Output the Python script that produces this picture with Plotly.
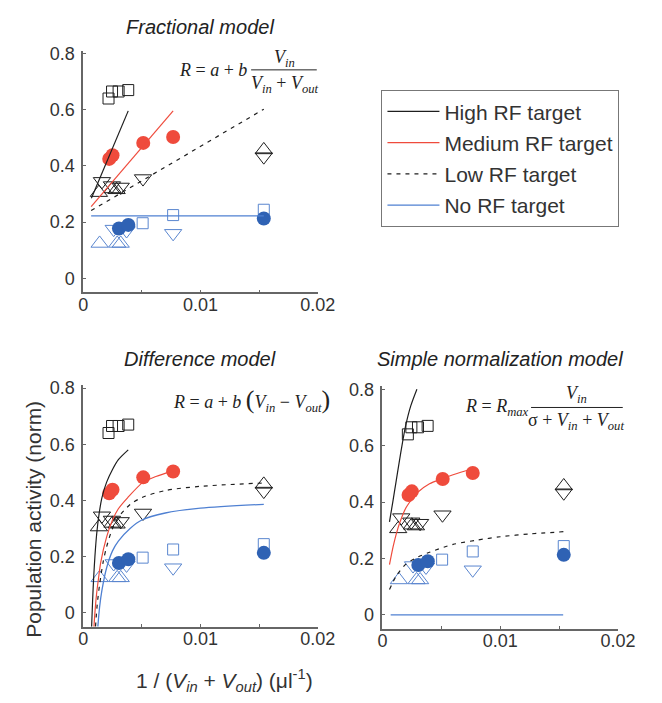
import plotly.graph_objects as go

W, H = 662, 703

# ---------------- data ----------------
black_sq_x = [0.00216, 0.00246, 0.00302, 0.00384]
black_sq_y = [0.640, 0.665, 0.665, 0.670]
red_ci_x = [0.00222, 0.00250, 0.00512, 0.00767]
red_ci_y = [0.425, 0.438, 0.482, 0.503]
black_up_x = [0.00134, 0.00250, 0.00285, 0.0154]
black_up_y = [0.305, 0.318, 0.315, 0.457]
black_dn_x = [0.00160, 0.00245, 0.00320, 0.00510, 0.0154]
black_dn_y = [0.345, 0.330, 0.325, 0.355, 0.433]
blue_sq_x = [0.00507, 0.00767, 0.0154]
blue_sq_y = [0.196, 0.225, 0.244]
blue_ci_x = [0.00305, 0.00385, 0.0154]
blue_ci_y = [0.177, 0.190, 0.213]
blue_up_x = [0.00140, 0.00290, 0.00320]
blue_up_y = [0.124, 0.124, 0.124]
blue_dn_x = [0.00260, 0.00370, 0.00767]
blue_dn_y = [0.175, 0.170, 0.160]

# Fractional model fits
frac_high_x = [0.00070, 0.00384]
frac_high_y = [0.285, 0.596]
frac_med_x = [0.00068, 0.00767]
frac_med_y = [0.255, 0.596]
frac_low_x = [0.00068, 0.0154]
frac_low_y = [0.241, 0.602]
frac_no_x = [0.00068, 0.0154]
frac_no_y = [0.222, 0.222]

# Difference model fits
diff_high_x = [0.00072, 0.00080, 0.00090, 0.00100, 0.00115, 0.00135, 0.00160, 0.00200, 0.00250, 0.00300, 0.00384]
diff_high_y = [-0.05, 0.04, 0.13, 0.20, 0.28, 0.35, 0.41, 0.465, 0.51, 0.545, 0.58]
diff_med_x = [0.00092, 0.00100, 0.00115, 0.00130, 0.00150, 0.00200, 0.00250, 0.00300, 0.00380, 0.00512, 0.00620, 0.00767]
diff_med_y = [-0.05, 0.00, 0.07, 0.12, 0.18, 0.27, 0.33, 0.37, 0.41, 0.465, 0.485, 0.505]
diff_low_x = [0.00105, 0.00120, 0.00140, 0.00170, 0.00200, 0.00250, 0.00300, 0.00400, 0.00500, 0.00700, 0.01000, 0.01540]
diff_low_y = [-0.05, 0.03, 0.10, 0.18, 0.235, 0.30, 0.34, 0.385, 0.41, 0.435, 0.45, 0.462]
diff_no_x = [0.00125, 0.00140, 0.00160, 0.00200, 0.00250, 0.00300, 0.00400, 0.00500, 0.00700, 0.01000, 0.01540]
diff_no_y = [-0.05, 0.02, 0.08, 0.16, 0.22, 0.255, 0.30, 0.33, 0.355, 0.372, 0.386]

# Simple normalization model fits
norm_high_x = [0.00060, 0.00088, 0.00115, 0.00142, 0.00170, 0.00197, 0.00240, 0.00293]
norm_high_y = [0.33, 0.40, 0.47, 0.54, 0.61, 0.67, 0.74, 0.80]
norm_med_x = [0.00060, 0.00090, 0.00115, 0.00150, 0.00200, 0.00250, 0.00300, 0.00400, 0.00500, 0.00600, 0.00780]
norm_med_y = [0.178, 0.24, 0.283, 0.33, 0.38, 0.41, 0.435, 0.465, 0.482, 0.497, 0.52]
norm_low_x = [0.00060, 0.00120, 0.00200, 0.00300, 0.00400, 0.00600, 0.00800, 0.01000, 0.01250, 0.01540]
norm_low_y = [0.09, 0.14, 0.18, 0.205, 0.222, 0.25, 0.265, 0.277, 0.287, 0.295]
norm_no_x = [0.00070, 0.01535]
norm_no_y = [0.0, 0.0]

x_ticks = [0, 0.01, 0.02]
x_ticklabels = ["0", "0.01", "0.02"]
y_ticks = [0, 0.2, 0.4, 0.6, 0.8]
y_ticklabels = ["0", "0.2", "0.4", "0.6", "0.8"]

legend_names = ["High RF target", "Medium RF target", "Low RF target", "No RF target"]

# ---------------- styles ----------------
BLACK = "#1e1e1e"
RED = "#ef4b3c"
BLUE_LINE = "#4f80d2"
BLUE_OPEN = "#5a86cf"
BLUE_FILL = "#2f62b4"
AXIS = "#666666"
SANS = "Liberation Sans, Arial, sans-serif"
SERIF = "Liberation Serif, Times New Roman, serif"


def px_x(p):
    return p / W


def px_y(p):
    return 1 - p / H


fig = go.Figure()

panels = [("x", "y"), ("x2", "y2"), ("x3", "y3")]
fits = [
    [(frac_high_x, frac_high_y), (frac_med_x, frac_med_y), (frac_low_x, frac_low_y), (frac_no_x, frac_no_y)],
    [(diff_high_x, diff_high_y), (diff_med_x, diff_med_y), (diff_low_x, diff_low_y), (diff_no_x, diff_no_y)],
    [(norm_high_x, norm_high_y), (norm_med_x, norm_med_y), (norm_low_x, norm_low_y), (norm_no_x, norm_no_y)],
]
fit_styles = [
    dict(color=BLACK, width=1.2, dash="solid"),
    dict(color=RED, width=1.2, dash="solid"),
    dict(color=BLACK, width=1.2, dash="4px,5px"),
    dict(color=BLUE_LINE, width=1.3, dash="solid"),
]

marker_sets = [
    (black_up_x, black_up_y, dict(symbol="triangle-up-open", size=15, color=BLACK, line=dict(width=1, color=BLACK))),
    (black_dn_x, black_dn_y, dict(symbol="triangle-down-open", size=15, color=BLACK, line=dict(width=1, color=BLACK))),
    (black_sq_x, black_sq_y, dict(symbol="square-open", size=11, color=BLACK, line=dict(width=1, color=BLACK))),
    (blue_up_x, blue_up_y, dict(symbol="triangle-up-open", size=15, color=BLUE_OPEN, line=dict(width=1, color=BLUE_OPEN))),
    (blue_dn_x, blue_dn_y, dict(symbol="triangle-down-open", size=15, color=BLUE_OPEN, line=dict(width=1, color=BLUE_OPEN))),
    (blue_sq_x, blue_sq_y, dict(symbol="square-open", size=11, color=BLUE_OPEN, line=dict(width=1, color=BLUE_OPEN))),
    (red_ci_x, red_ci_y, dict(symbol="circle", size=14, color=RED, line=dict(width=0))),
    (blue_ci_x, blue_ci_y, dict(symbol="circle", size=14, color=BLUE_FILL, line=dict(width=0))),
]

for pi, (xa, ya) in enumerate(panels):
    for mx, my, mk in marker_sets:
        fig.add_trace(go.Scatter(x=mx, y=my, mode="markers", marker=mk, xaxis=xa, yaxis=ya,
                                 showlegend=False, hoverinfo="skip"))
    for li, (fx, fy) in enumerate(fits[pi]):
        fig.add_trace(go.Scatter(x=fx, y=fy, mode="lines", line=dict(shape="spline", smoothing=0.8, **fit_styles[li]),
                                 xaxis=xa, yaxis=ya, name=legend_names[li], legendgroup=f"g{li}",
                                 showlegend=(pi == 0), hoverinfo="skip"))


def xaxis_style(dom, anchor):
    return dict(domain=dom, anchor=anchor, range=[0, 0.02], tickvals=x_ticks, ticktext=x_ticklabels,
                showline=True, linecolor=AXIS, linewidth=1.6, showgrid=False, zeroline=False,
                ticks="inside", ticklen=3, tickcolor=AXIS, tickwidth=1,
                minor=dict(tickvals=[0.005, 0.015], ticks="inside", ticklen=3, tickcolor=AXIS),
                tickfont=dict(family=SANS, size=18, color="#333"), ticklabelstandoff=-5)


def yaxis_style(dom, anchor):
    return dict(domain=dom, anchor=anchor, range=[-0.05, 0.81], tickvals=y_ticks, ticktext=y_ticklabels,
                showline=True, linecolor=AXIS, linewidth=1.6, showgrid=False, zeroline=False,
                ticks="inside", ticklen=3, tickcolor=AXIS, tickwidth=1,
                tickfont=dict(family=SANS, size=18, color="#333"), ticklabelstandoff=3)


fig.update_layout(
    width=W, height=H,
    margin=dict(l=0, r=0, t=0, b=0),
    paper_bgcolor="white", plot_bgcolor="white",
    xaxis=xaxis_style([81 / W, 324 / W], "y"),
    yaxis=yaxis_style([px_y(288.2), px_y(44.2)], "x"),
    xaxis2=xaxis_style([81 / W, 324 / W], "y2"),
    yaxis2=yaxis_style([px_y(625.9), px_y(382.1)], "x2"),
    xaxis3=xaxis_style([391 / W, 635 / W], "y3"),
    yaxis3=yaxis_style([px_y(628.3), px_y(383.2)], "x3"),
    legend=dict(x=px_x(390), y=px_y(84), xanchor="left", yanchor="top",
                bordercolor="#777", borderwidth=1, bgcolor="white",
                font=dict(family=SANS, size=21, color="#333"),
                traceorder="grouped", tracegroupgap=1, itemwidth=52),
)

annotations = []


def ann(text, x, y, size, family=SANS, xanchor="center", yanchor="middle", textangle=0, color="#222"):
    annotations.append(dict(text=text, x=px_x(x), y=px_y(y), xref="paper", yref="paper",
                            showarrow=False, xanchor=xanchor, yanchor=yanchor, textangle=textangle,
                            font=dict(family=family, size=size, color=color)))


# panel titles
ann("<i>Fractional model</i>", 202, 20, 20)
ann("<i>Difference model</i>", 202, 356, 20)
ann("<i>Simple normalization model</i>", 513, 356, 20)

# axis titles
ann("Population activity (norm)", 30, 517, 21, textangle=-90, color="#333")
ann("1 / (<i>V<sub>in</sub></i> + <i>V<sub>out</sub></i>) (μl<sup>-1</sup>)", 227, 680, 21, color="#333")

# formulas
ann("<i>R</i> = <i>a</i> + <i>b</i>", 178, 64, 18, SERIF, xanchor="left")
ann("<i>V<sub>in</sub></i>", 290, 52, 18, SERIF)
ann("<i>V<sub>in</sub></i> + <i>V<sub>out</sub></i>", 290, 78, 18, SERIF)

ann("<i>R</i> = <i>a</i> + <i>b</i> <span style='font-size:26px'>(</span><i>V<sub>in</sub></i> − <i>V<sub>out</sub></i><span style='font-size:26px'>)</span>",
    172, 397, 18, SERIF, xanchor="left")

ann("<i>R</i> = <i>R<sub>max</sub></i>", 474, 405, 18, SERIF, xanchor="left")
ann("<i>V<sub>in</sub></i>", 592, 391, 18, SERIF)
ann("σ + <i>V<sub>in</sub></i> + <i>V<sub>out</sub></i>", 592, 419, 18, SERIF)

fig.update_layout(annotations=annotations)

shapes = [
    dict(type="line", xref="paper", yref="paper", x0=px_x(255), x1=px_x(323), y0=px_y(63.5), y1=px_y(63.5),
         line=dict(color="#222", width=1)),
    dict(type="line", xref="paper", yref="paper", x0=px_x(545), x1=px_x(640), y0=px_y(404.5), y1=px_y(404.5),
         line=dict(color="#222", width=1)),
]
fig.update_layout(shapes=shapes)

fig.write_html("out.html")
